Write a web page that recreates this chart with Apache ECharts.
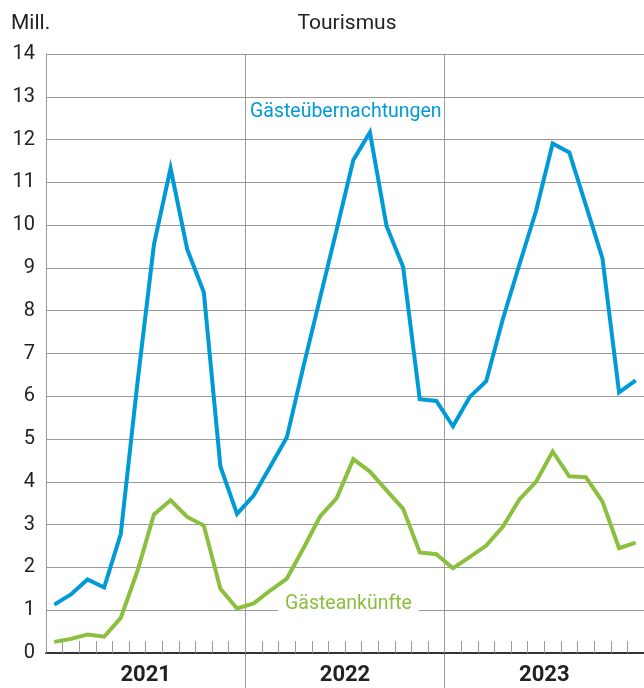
<!DOCTYPE html>
<html>
<head>
<meta charset="utf-8">
<script src="https://cdn.jsdelivr.net/npm/echarts@6/dist/echarts.min.js"></script>
<style>
  html, body { margin: 0; padding: 0; background: #fff; }
  #chart { width: 644px; height: 688px; }
</style>
</head>
<body>
<div id="chart"></div>
<script>
// Monate Jan 2021 - Dez 2023
var years = ["2021", "2022", "2023"];
var months = [];
years.forEach(function (y) {
  for (var m = 1; m <= 12; m++) months.push(y + "-" + (m < 10 ? "0" + m : m));
});

// Gästeübernachtungen (Mill.)
var naechte = [
  1.13, 1.37, 1.72, 1.53, 2.78, 6.3, 9.55, 11.33, 9.44, 8.43, 4.36, 3.25,
  3.68, 4.36, 5.04, 6.7, 8.3, 9.9, 11.52, 12.17, 9.98, 9.02, 5.93, 5.89,
  5.3, 5.98, 6.35, 7.8, 9.08, 10.33, 11.91, 11.7, 10.47, 9.22, 6.09, 6.37
];

// Gästeankünfte (Mill.)
var ankuenfte = [
  0.26, 0.33, 0.43, 0.38, 0.82, 1.91, 3.24, 3.57, 3.18, 2.98, 1.5, 1.04,
  1.16, 1.46, 1.74, 2.45, 3.19, 3.62, 4.53, 4.24, 3.8, 3.37, 2.35, 2.31,
  1.98, 2.24, 2.51, 2.95, 3.59, 4.0, 4.71, 4.13, 4.11, 3.54, 2.45, 2.58
];

var textColor = "#222";
var gridColor = "#9a9a9a";
var blue = "#009bd6";
var green = "#8cbf3f";
var font = "Roboto";

var chart = echarts.init(document.getElementById("chart"));
var option = {
  animation: false,
  backgroundColor: "#fff",
  textStyle: { fontFamily: font },
  title: [
    {
      text: "Tourismus",
      left: 342,
      top: 8,
      textAlign: "center",
      textStyle: { fontSize: 21, fontWeight: "normal", color: textColor, fontFamily: font }
    },
    {
      text: "Mill.",
      left: 6,
      top: 8,
      textStyle: { fontSize: 21, fontWeight: "normal", color: textColor, fontFamily: font }
    }
  ],
  grid: {
    left: 46,
    top: 54,
    width: 600,
    bottom: 35
  },
  xAxis: [
    {
      type: "category",
      data: months,
      boundaryGap: true,
      position: "bottom",
      axisLine: { show: true, lineStyle: { color: "#333", width: 2 } },
      axisTick: { show: true, inside: true, length: 12, interval: 0, lineStyle: { color: gridColor } },
      axisLabel: { show: false },
      splitLine: { show: false },
      z: 5
    },
    {
      type: "category",
      data: years,
      boundaryGap: true,
      position: "bottom",
      axisLine: { show: false },
      axisTick: {
        show: true,
        length: 36,
        interval: function (index) { return index !== 0; },
        lineStyle: { color: gridColor }
      },
      axisLabel: {
        fontSize: 22,
        fontWeight: "bold",
        color: textColor,
        margin: 11,
        fontFamily: font
      },
      splitLine: { show: true, interval: 0, lineStyle: { color: gridColor, width: 1 } }
    }
  ],
  yAxis: {
    type: "value",
    min: 0,
    max: 14,
    interval: 1,
    axisLine: { show: true, lineStyle: { color: gridColor } },
    axisTick: { show: false },
    axisLabel: { fontSize: 20, color: textColor, margin: 11, fontFamily: font },
    splitLine: { show: true, lineStyle: { color: gridColor, width: 1 } }
  },
  graphic: [
    {
      type: "text",
      left: 250,
      top: 102,
      style: { text: "Gästeübernachtungen", fill: blue, fontSize: 19.5, fontFamily: font },
      z: 20
    },
    {
      type: "text",
      left: 278,
      top: 592,
      style: {
        text: "Gästeankünfte",
        fill: green,
        fontSize: 19.5,
        fontFamily: font,
        backgroundColor: "#fff",
        padding: [2, 7]
      },
      z: 20
    }
  ],
  series: [
    {
      name: "Gästeübernachtungen",
      type: "line",
      xAxisIndex: 0,
      data: naechte,
      showSymbol: false,
      lineStyle: { color: blue, width: 4, join: "miter" },
      z: 10
    },
    {
      name: "Gästeankünfte",
      type: "line",
      xAxisIndex: 0,
      data: ankuenfte,
      showSymbol: false,
      lineStyle: { color: green, width: 4, join: "miter" },
      z: 10
    }
  ]
};
chart.setOption(option);
</script>
</body>
</html>
